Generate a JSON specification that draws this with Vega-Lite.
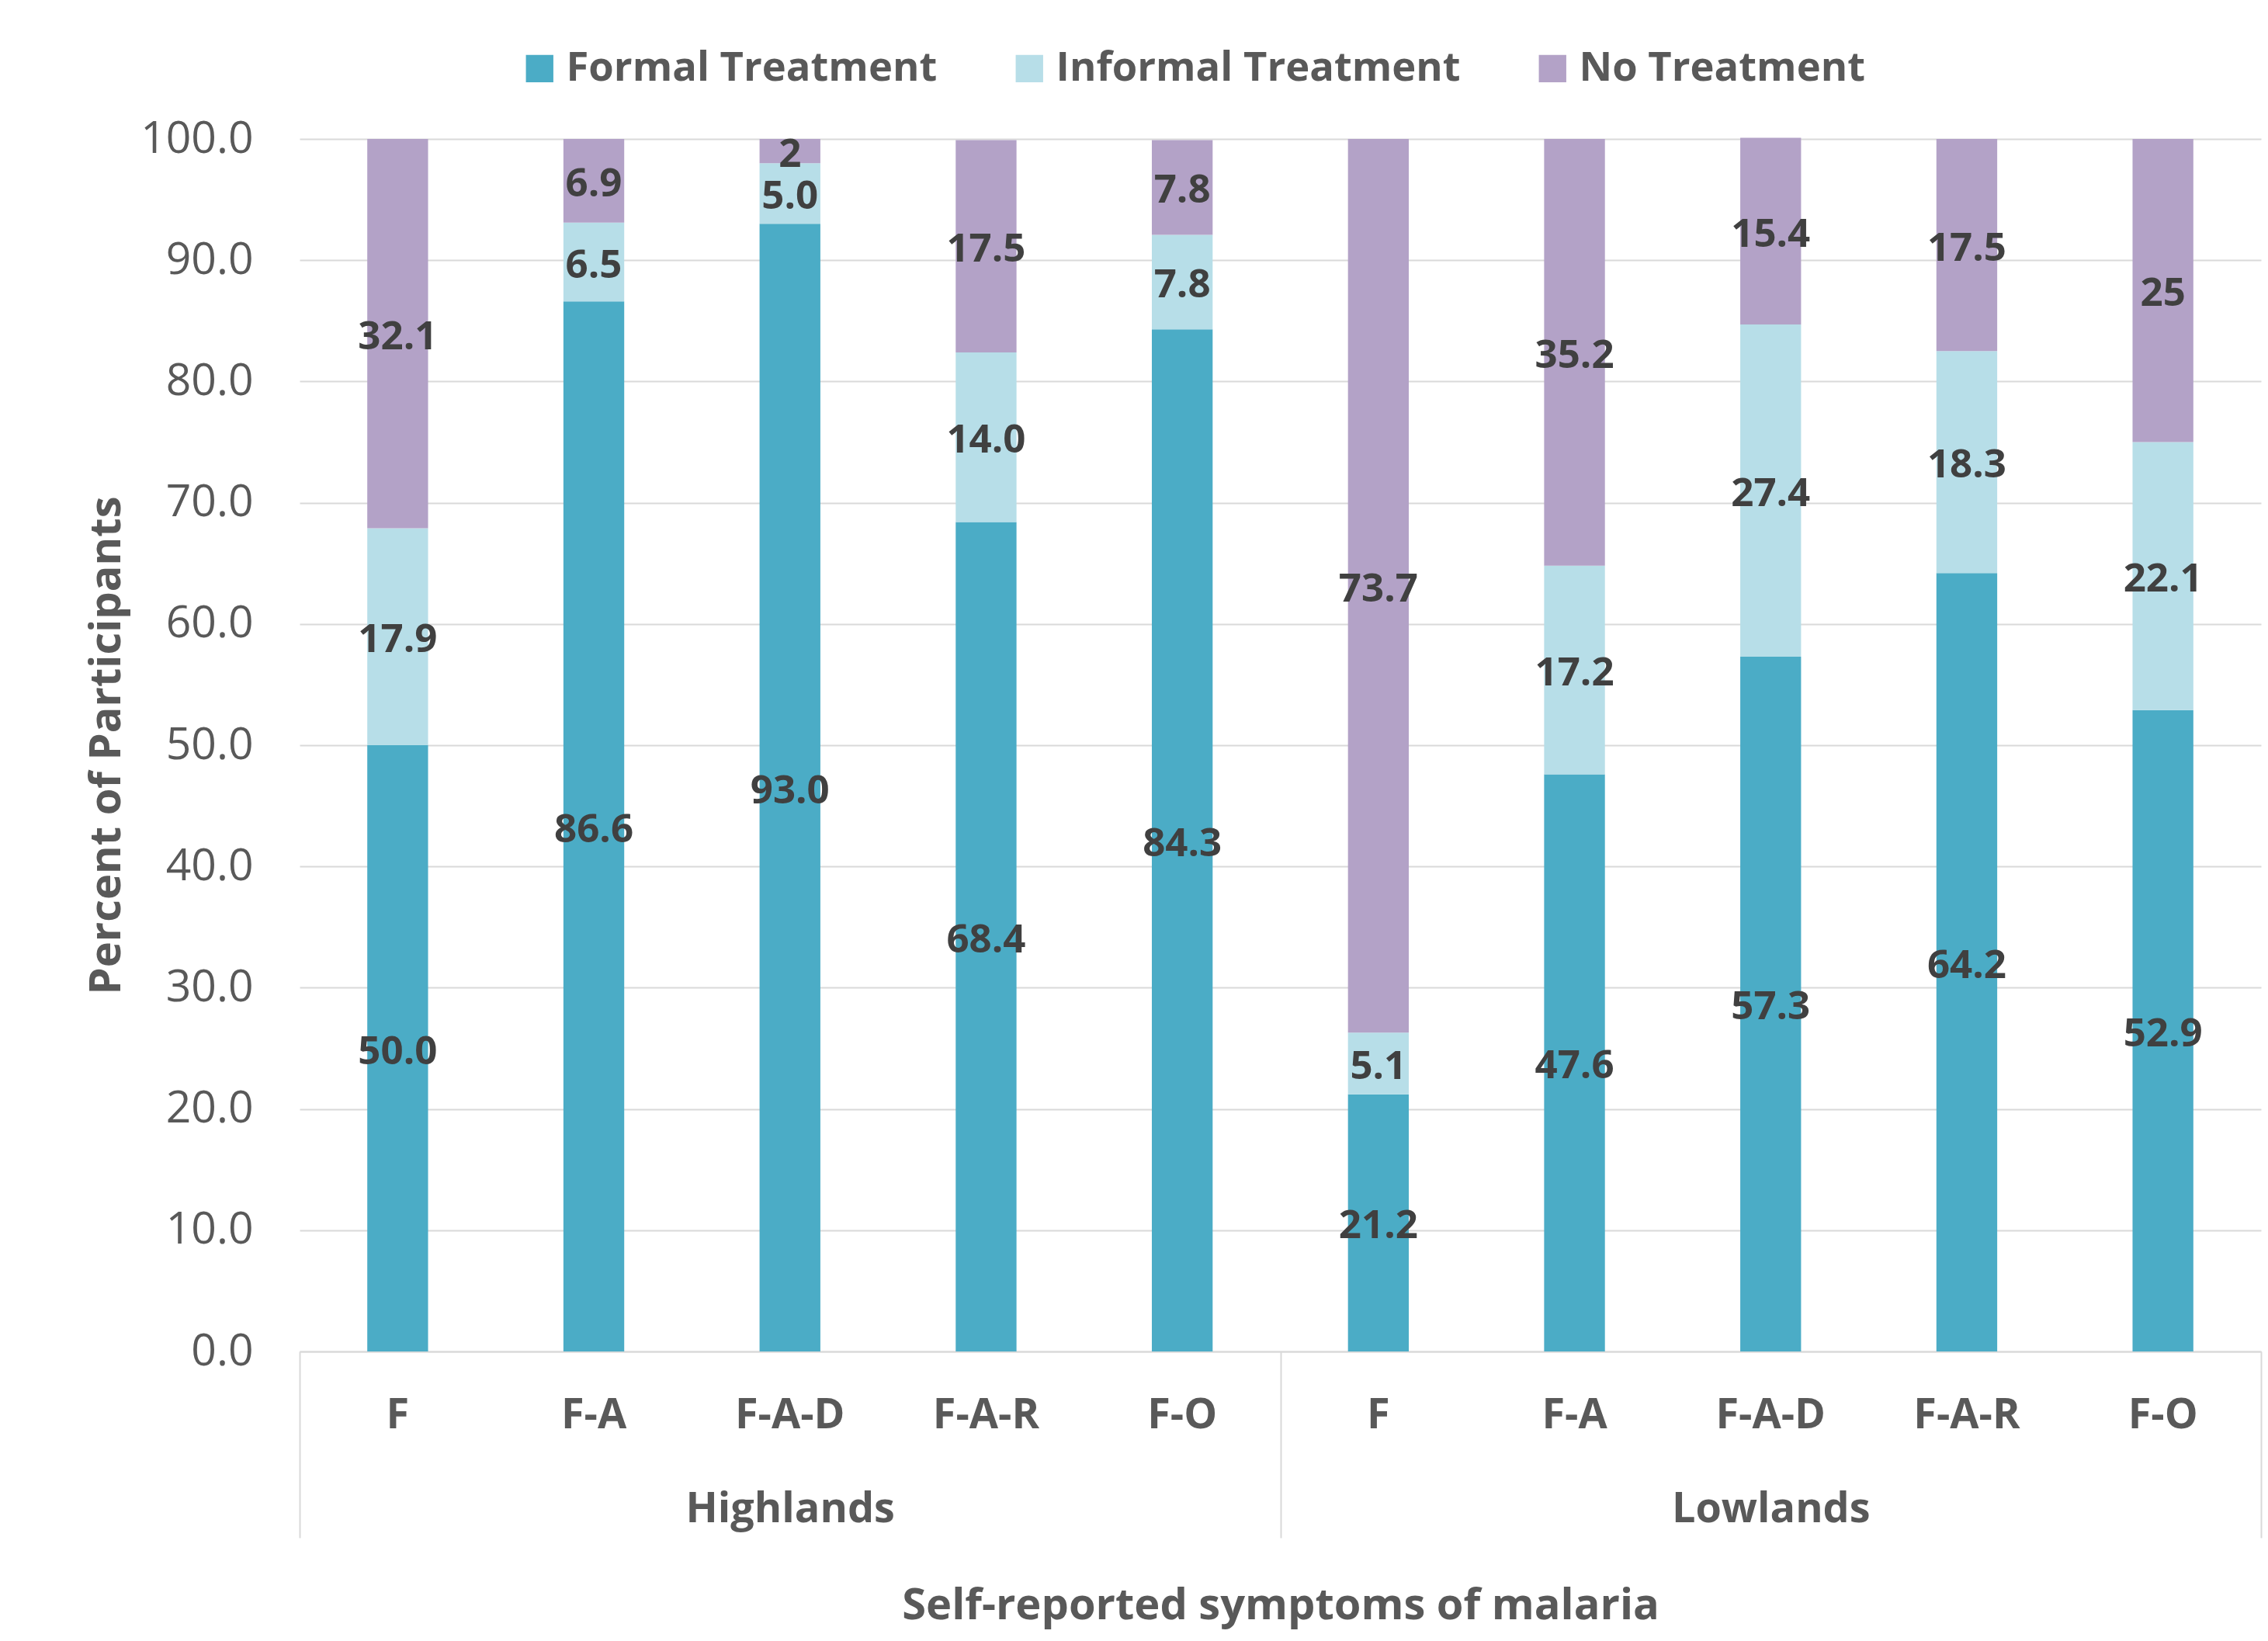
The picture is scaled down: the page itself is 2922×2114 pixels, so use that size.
{
  "$schema": "https://vega.github.io/schema/vega-lite/v6.json",
  "autosize": {"type": "none"},
  "padding": {"left": 386, "top": 179, "right": 9, "bottom": 373},
  "width": 2527,
  "height": 1562,
  "background": "white",
  "config": {
    "font": "Open Sans",
    "view": {"stroke": null},
    "axis": {"labelFont": "Open Sans", "titleFont": "Open Sans"},
    "legend": {"labelFont": "Open Sans"}
  },
  "data": {
    "values": [
      {"key": "Highlands|F", "region": "Highlands", "symptom": "F", "treatment": "Formal Treatment", "value": 50.0, "label": "50.0"},
      {"key": "Highlands|F", "region": "Highlands", "symptom": "F", "treatment": "Informal Treatment", "value": 17.9, "label": "17.9"},
      {"key": "Highlands|F", "region": "Highlands", "symptom": "F", "treatment": "No Treatment", "value": 32.1, "label": "32.1"},
      {"key": "Highlands|F-A", "region": "Highlands", "symptom": "F-A", "treatment": "Formal Treatment", "value": 86.6, "label": "86.6"},
      {"key": "Highlands|F-A", "region": "Highlands", "symptom": "F-A", "treatment": "Informal Treatment", "value": 6.5, "label": "6.5"},
      {"key": "Highlands|F-A", "region": "Highlands", "symptom": "F-A", "treatment": "No Treatment", "value": 6.9, "label": "6.9"},
      {"key": "Highlands|F-A-D", "region": "Highlands", "symptom": "F-A-D", "treatment": "Formal Treatment", "value": 93.0, "label": "93.0"},
      {"key": "Highlands|F-A-D", "region": "Highlands", "symptom": "F-A-D", "treatment": "Informal Treatment", "value": 5.0, "label": "5.0"},
      {"key": "Highlands|F-A-D", "region": "Highlands", "symptom": "F-A-D", "treatment": "No Treatment", "value": 2, "label": "2"},
      {"key": "Highlands|F-A-R", "region": "Highlands", "symptom": "F-A-R", "treatment": "Formal Treatment", "value": 68.4, "label": "68.4"},
      {"key": "Highlands|F-A-R", "region": "Highlands", "symptom": "F-A-R", "treatment": "Informal Treatment", "value": 14.0, "label": "14.0"},
      {"key": "Highlands|F-A-R", "region": "Highlands", "symptom": "F-A-R", "treatment": "No Treatment", "value": 17.5, "label": "17.5"},
      {"key": "Highlands|F-O", "region": "Highlands", "symptom": "F-O", "treatment": "Formal Treatment", "value": 84.3, "label": "84.3"},
      {"key": "Highlands|F-O", "region": "Highlands", "symptom": "F-O", "treatment": "Informal Treatment", "value": 7.8, "label": "7.8"},
      {"key": "Highlands|F-O", "region": "Highlands", "symptom": "F-O", "treatment": "No Treatment", "value": 7.8, "label": "7.8"},
      {"key": "Lowlands|F", "region": "Lowlands", "symptom": "F", "treatment": "Formal Treatment", "value": 21.2, "label": "21.2"},
      {"key": "Lowlands|F", "region": "Lowlands", "symptom": "F", "treatment": "Informal Treatment", "value": 5.1, "label": "5.1"},
      {"key": "Lowlands|F", "region": "Lowlands", "symptom": "F", "treatment": "No Treatment", "value": 73.7, "label": "73.7"},
      {"key": "Lowlands|F-A", "region": "Lowlands", "symptom": "F-A", "treatment": "Formal Treatment", "value": 47.6, "label": "47.6"},
      {"key": "Lowlands|F-A", "region": "Lowlands", "symptom": "F-A", "treatment": "Informal Treatment", "value": 17.2, "label": "17.2"},
      {"key": "Lowlands|F-A", "region": "Lowlands", "symptom": "F-A", "treatment": "No Treatment", "value": 35.2, "label": "35.2"},
      {"key": "Lowlands|F-A-D", "region": "Lowlands", "symptom": "F-A-D", "treatment": "Formal Treatment", "value": 57.3, "label": "57.3"},
      {"key": "Lowlands|F-A-D", "region": "Lowlands", "symptom": "F-A-D", "treatment": "Informal Treatment", "value": 27.4, "label": "27.4"},
      {"key": "Lowlands|F-A-D", "region": "Lowlands", "symptom": "F-A-D", "treatment": "No Treatment", "value": 15.4, "label": "15.4"},
      {"key": "Lowlands|F-A-R", "region": "Lowlands", "symptom": "F-A-R", "treatment": "Formal Treatment", "value": 64.2, "label": "64.2"},
      {"key": "Lowlands|F-A-R", "region": "Lowlands", "symptom": "F-A-R", "treatment": "Informal Treatment", "value": 18.3, "label": "18.3"},
      {"key": "Lowlands|F-A-R", "region": "Lowlands", "symptom": "F-A-R", "treatment": "No Treatment", "value": 17.5, "label": "17.5"},
      {"key": "Lowlands|F-O", "region": "Lowlands", "symptom": "F-O", "treatment": "Formal Treatment", "value": 52.9, "label": "52.9"},
      {"key": "Lowlands|F-O", "region": "Lowlands", "symptom": "F-O", "treatment": "Informal Treatment", "value": 22.1, "label": "22.1"},
      {"key": "Lowlands|F-O", "region": "Lowlands", "symptom": "F-O", "treatment": "No Treatment", "value": 25, "label": "25"}
    ]
  },
  "layer": [
    {
      "layer": [
        {
          "mark": {"type": "bar"},
          "encoding": {
            "x": {
              "field": "key", "type": "nominal", "sort": null,
              "scale": {"paddingInner": 0.69, "paddingOuter": 0.345},
              "axis": {
                "orient": "bottom", "title": null, "labelAngle": 0,
                "labelExpr": "split(datum.label, '|')[1]",
                "domain": true, "domainColor": "#D9D9D9", "domainWidth": 2,
                "ticks": false, "tickSize": 0, "grid": false,
                "labelPadding": 55, "labelFontSize": 54, "labelFontWeight": "bold", "labelColor": "#595959"
              }
            },
            "y": {
              "field": "value", "type": "quantitative", "stack": "zero",
              "scale": {"domain": [0, 100], "nice": false},
              "axis": {
                "title": "Percent of Participants", "titleFontSize": 56, "titleFontWeight": "bold", "titleColor": "#595959", "titlePadding": 20,
                "values": [0, 10, 20, 30, 40, 50, 60, 70, 80, 90, 100], "format": ".1f",
                "grid": true, "gridColor": "#D9D9D9", "gridWidth": 2,
                "domain": false, "ticks": false, "tickSize": 0,
                "labelPadding": 60, "labelFontSize": 57, "labelColor": "#595959"
              }
            },
            "order": {"field": "treatment", "type": "nominal", "sort": "ascending"},
            "color": {
              "field": "treatment", "type": "nominal",
              "scale": {"domain": ["Formal Treatment", "Informal Treatment", "No Treatment"], "range": ["#4BACC6", "#B7DEE8", "#B3A2C7"]},
              "legend": {
                "orient": "none", "legendX": 283, "legendY": -117, "direction": "horizontal",
                "title": null, "padding": 0,
                "symbolType": "square", "symbolSize": 1250, "symbolStrokeWidth": 0,
                "labelFontSize": 52.5, "labelFontWeight": "bold", "labelColor": "#595959",
                "labelOffset": 8, "columnPadding": 92, "labelLimit": 1000
              }
            }
          }
        },
        {
          "mark": {"type": "text", "align": "center", "baseline": "middle", "dy": 5, "fontSize": 51, "fontWeight": "bold", "color": "#404040"},
          "encoding": {
            "x": {"field": "key", "type": "nominal", "sort": null},
            "y": {"field": "value", "type": "quantitative", "stack": "zero", "bandPosition": 0.5},
            "order": {"field": "treatment", "type": "nominal", "sort": "ascending"},
            "detail": {"field": "treatment", "type": "nominal"},
            "text": {"field": "label", "type": "nominal"}
          }
        }
      ]
    },
    {
      "mark": {"type": "bar", "opacity": 0},
      "encoding": {
        "x": {
          "field": "region", "type": "nominal", "sort": null,
          "scale": {"paddingInner": 0, "paddingOuter": 0},
          "axis": {
            "orient": "bottom", "labelAngle": 0, "labelLimit": 1000,
            "domain": false, "grid": false,
            "ticks": true, "tickBand": "extent", "tickSize": 240, "tickColor": "#D9D9D9", "tickWidth": 2,
            "labelPadding": -64, "labelFontSize": 54, "labelFontWeight": "bold", "labelColor": "#595959",
            "title": "Self-reported symptoms of malaria", "titleFontSize": 56, "titleFontWeight": "bold", "titleColor": "#595959", "titlePadding": 100
          }
        }
      }
    }
  ],
  "resolve": {"scale": {"x": "independent"}, "axis": {"x": "independent"}}
}
